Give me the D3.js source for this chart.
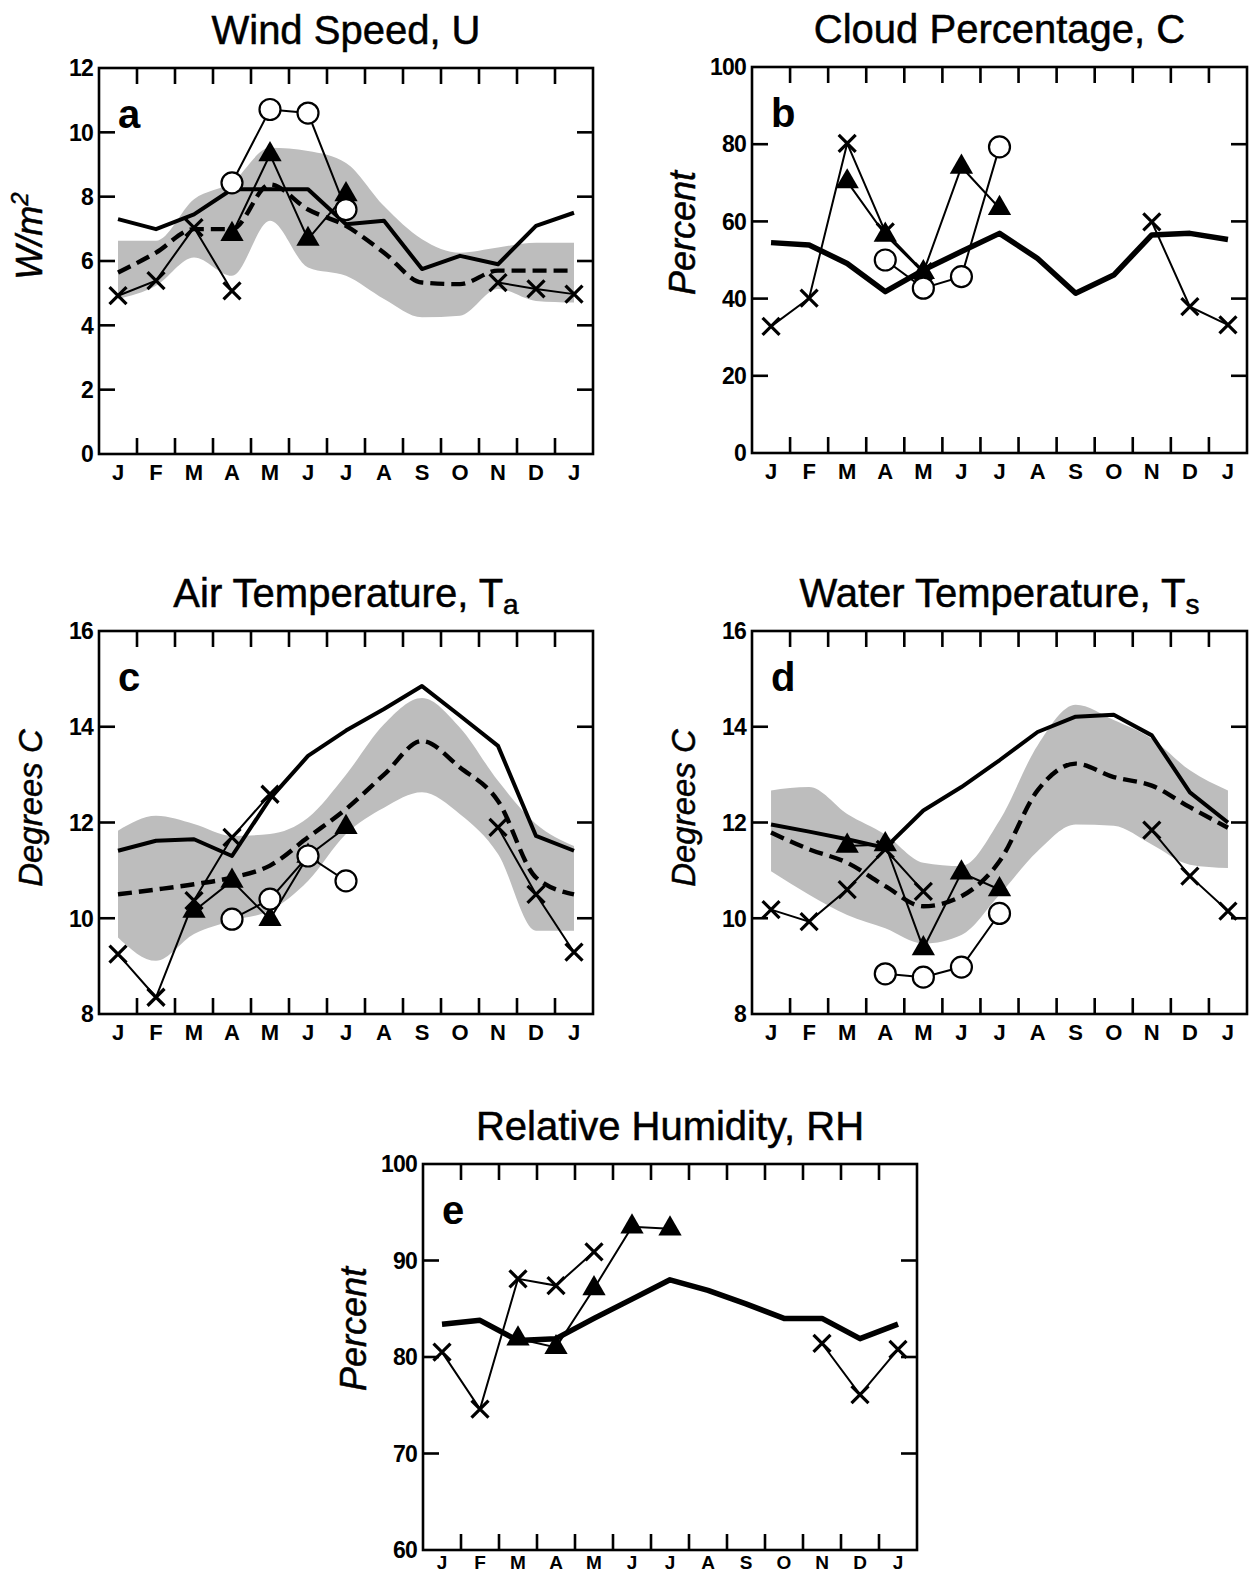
<!DOCTYPE html>
<html>
<head>
<meta charset="utf-8">
<script src="https://cdn.jsdelivr.net/npm/d3@7"></script>
<style>
  html, body { margin: 0; padding: 0; background: #fff; }
  svg { display: block; }
  text { font-family: "Liberation Sans", Arial, Helvetica, sans-serif; fill: #000; }
</style>
</head>
<body>
<svg id="fig" width="1249" height="1574"></svg>
<script>
// Month labels, January through the following January
const months = ["J","F","M","A","M","J","J","A","S","O","N","D","J"];

// ---- (a) Wind speed ----
const windMean   = [7.3, 6.99, 7.45, 8.23, 8.23, 8.23, 7.14, 7.25, 5.75, 6.16, 5.9, 7.09, 7.5];
const windModel  = [5.64, 6.26, 6.99, 6.99, 8.38, 7.6, 7.09, 6.26, 5.33, 5.28, 5.7, 5.7, 5.7];
const windHi     = [6.63, 6.63, 7.92, 8.45, 9.52, 9.42, 9.05, 7.71, 6.68, 6.26, 6.42, 6.57, 6.57];
const windLo     = [4.82, 5.23, 6.11, 5.54, 7.25, 5.8, 5.54, 4.82, 4.25, 4.3, 5.13, 4.76, 4.71];
const windCross  = [4.92, 5.39, 7.04, 5.07, null, null, null, null, null, null, 5.33, 5.13, 4.97];
const windTri    = [null, null, null, 6.83, 9.31, 6.68, 8.07, null, null, null, null, null, null];
const windCircle = [null, null, null, 8.43, 10.71, 10.6, 7.6, null, null, null, null, null, null];
const windTicks  = [0, 2, 4, 6, 8, 10, 12];

// ---- (b) Cloud percentage ----
const cloudMean   = [54.5, 53.9, 49.1, 41.8, 47.4, 52.2, 56.9, 50.4, 41.4, 46.1, 56.5, 56.9, 55.3];
const cloudCross  = [32.8, 40.1, 80.2, 57.3, 47.0, null, null, null, null, null, 59.9, 37.9, 33.2];
const cloudTri    = [null, null, 70.3, 56.5, 46.8, 74.1, 63.4, null, null, null, null, null, null];
const cloudCircle = [null, null, null, 50.0, 42.7, 45.7, 79.3, null, null, null, null, null, null];
const cloudTicks  = [0, 20, 40, 60, 80, 100];

// ---- (c) Air temperature ----
const airMean   = [11.41, 11.62, 11.65, 11.3, 12.5, 13.39, 13.92, 14.37, 14.85, 14.23, 13.6, 11.72, 11.41];
const airModel  = [10.5, 10.6, 10.71, 10.85, 11.1, 11.69, 12.28, 13.0, 13.7, 13.15, 12.45, 10.85, 10.5];
const airHi     = [11.83, 12.14, 11.97, 11.72, 11.76, 12.1, 13.0, 14.05, 14.6, 13.98, 12.87, 11.97, 11.51];
const airLo     = [9.6, 9.11, 9.67, 9.95, 10.16, 10.78, 11.76, 12.31, 12.63, 12.17, 11.34, 9.74, 9.74];
const airCross  = [9.25, 8.35, 10.37, 11.69, 12.59, null, null, null, null, null, 11.9, 10.5, 9.29];
const airTri    = [null, null, 10.15, 10.78, 9.98, 11.3, 11.9, null, null, null, null, null, null];
const airCircle = [null, null, null, 9.98, 10.4, 11.3, 10.78, null, null, null, null, null, null];
const tempTicks = [8, 10, 12, 14, 16];

// ---- (d) Water temperature ----
const waterMean   = [11.96, 11.81, 11.65, 11.47, 12.25, 12.74, 13.3, 13.89, 14.21, 14.25, 13.82, 12.63, 12.0];
const waterModel  = [11.79, 11.44, 11.16, 10.67, 10.25, 10.46, 11.19, 12.67, 13.23, 12.95, 12.77, 12.32, 11.89];
const waterHi     = [12.67, 12.74, 12.18, 11.75, 11.16, 11.09, 12.04, 13.61, 14.46, 14.14, 13.75, 13.09, 12.67];
const waterLo     = [10.98, 10.49, 10.07, 9.79, 9.47, 9.65, 10.49, 11.4, 11.96, 11.93, 11.54, 11.12, 11.05];
const waterCross  = [10.18, 9.93, 10.6, 11.44, 10.56, null, null, null, null, null, 11.84, 10.88, 10.15];
const waterTri    = [null, null, 11.51, 11.54, 9.37, 10.95, 10.6, null, null, null, null, null, null];
const waterCircle = [null, null, null, 8.84, 8.77, 8.98, 10.1, null, null, null, null, null, null];

// ---- (e) Relative humidity ----
const rhMean  = [83.4, 83.8, 81.7, 81.9, 84.0, 86.0, 88.0, 86.9, 85.5, 84.0, 84.0, 81.9, 83.4];
const rhCross = [80.5, 74.6, 88.1, 87.4, 90.9, null, null, null, null, null, 81.4, 76.1, 80.8];
const rhTri   = [null, null, 81.9, 81.0, 87.1, 93.5, 93.3, null, null, null, null, null, null];
const rhTicks = [60, 70, 80, 90, 100];

// Panel placement and series wiring
const panels = [
  { letter: "a", title: [["Wind Speed, U"]], yTitle: "W/m", ySup: "2", yTitleSize: 36,
    box: { left: 99, top: 68, width: 494, height: 386 }, yTitleDy: 168, meanWidth: 4,
    domain: [0, 12], ticks: windTicks, monthSize: 22, monthGap: 26,
    hi: windHi, lo: windLo, model: windModel, mean: windMean,
    cross: windCross, tri: windTri, circle: windCircle },
  { letter: "b", title: [["Cloud Percentage, C"]], yTitle: "Percent", yTitleSize: 36,
    box: { left: 752, top: 67, width: 495, height: 386 }, yTitleDy: 166, meanWidth: 5.5,
    domain: [0, 100], ticks: cloudTicks, monthSize: 22, monthGap: 26,
    mean: cloudMean, cross: cloudCross, tri: cloudTri, circle: cloudCircle },
  { letter: "c", title: [["Air Temperature, T"], ["a", "sub"]], yTitle: "Degrees C", yTitleSize: 33,
    box: { left: 99, top: 631, width: 494, height: 383 }, yTitleDy: 177, meanWidth: 4,
    domain: [8, 16], ticks: tempTicks, monthSize: 22, monthGap: 26,
    hi: airHi, lo: airLo, model: airModel, mean: airMean,
    cross: airCross, tri: airTri, circle: airCircle },
  { letter: "d", title: [["Water Temperature, T"], ["s", "sub"]], yTitle: "Degrees C", yTitleSize: 33,
    box: { left: 752, top: 631, width: 495, height: 383 }, yTitleDy: 177, meanWidth: 4,
    domain: [8, 16], ticks: tempTicks, monthSize: 22, monthGap: 26,
    hi: waterHi, lo: waterLo, model: waterModel, mean: waterMean,
    cross: waterCross, tri: waterTri, circle: waterCircle },
  { letter: "e", title: [["Relative Humidity, RH"]], yTitle: "Percent", yTitleSize: 36,
    box: { left: 423, top: 1164, width: 494, height: 386 }, yTitleDy: 165, meanWidth: 5.5,
    domain: [60, 100], ticks: rhTicks, monthSize: 19, monthGap: 19,
    mean: rhMean, cross: rhCross, tri: rhTri }
];

const svg = d3.select("#fig");
const idx = d3.range(months.length);

panels.forEach(p => {
  const { left, top, width, height } = p.box;
  const x = d3.scaleLinear().domain([-0.5, 12.5]).range([left, left + width]);
  const y = d3.scaleLinear().domain(p.domain).range([top + height, top]);
  const g = svg.append("g");

  // shaded envelope
  if (p.hi) {
    const area = d3.area()
      .x(i => x(i)).y0(i => y(p.lo[i])).y1(i => y(p.hi[i]))
      .curve(d3.curveMonotoneX);
    g.append("path").attr("d", area(idx)).attr("fill", "#bdbdbd");
  }

  // dashed curve
  if (p.model) {
    const ln = d3.line().x(i => x(i)).y(i => y(p.model[i])).curve(d3.curveMonotoneX);
    g.append("path").attr("d", ln(idx)).attr("fill", "none")
      .attr("stroke", "#000").attr("stroke-width", 4.4)
      .attr("stroke-dasharray", "14,7");
  }

  // heavy solid curve
  {
    const ln = d3.line().x(i => x(i)).y(i => y(p.mean[i]));
    g.append("path").attr("d", ln(idx)).attr("fill", "none")
      .attr("stroke", "#000").attr("stroke-width", p.meanWidth)
      .attr("stroke-linejoin", "round");
  }

  // thin connecting lines for the marker series
  const thin = arr => {
    const ln = d3.line().defined(i => arr[i] != null).x(i => x(i)).y(i => y(arr[i]));
    g.append("path").attr("d", ln(idx)).attr("fill", "none")
      .attr("stroke", "#000").attr("stroke-width", 2);
  };
  const pts = arr => idx.filter(i => arr[i] != null);

  if (p.cross) {
    thin(p.cross);
    const s = 8.5;
    pts(p.cross).forEach(i => {
      const cx = x(i), cy = y(p.cross[i]);
      g.append("path")
        .attr("d", `M${cx - s},${cy - s}L${cx + s},${cy + s}M${cx - s},${cy + s}L${cx + s},${cy - s}`)
        .attr("stroke", "#000").attr("stroke-width", 3.2).attr("fill", "none");
    });
  }
  if (p.tri) {
    thin(p.tri);
    const tri = d3.symbol().type(d3.symbolTriangle).size(235);
    pts(p.tri).forEach(i => {
      g.append("path").attr("d", tri())
        .attr("transform", `translate(${x(i)},${y(p.tri[i])})`)
        .attr("fill", "#000");
    });
  }
  if (p.circle) {
    thin(p.circle);
    pts(p.circle).forEach(i => {
      g.append("circle").attr("cx", x(i)).attr("cy", y(p.circle[i])).attr("r", 10.5)
        .attr("fill", "#fff").attr("stroke", "#000").attr("stroke-width", 2.2);
    });
  }

  // frame
  g.append("rect").attr("x", left).attr("y", top).attr("width", width).attr("height", height)
    .attr("fill", "none").attr("stroke", "#000").attr("stroke-width", 2.6);

  // month boundary ticks, top and bottom
  const tl = 16;
  d3.range(12).forEach(k => {
    const xx = x(k + 0.5);
    g.append("line").attr("x1", xx).attr("x2", xx).attr("y1", top + height).attr("y2", top + height - tl)
      .attr("stroke", "#000").attr("stroke-width", 2.6);
    g.append("line").attr("x1", xx).attr("x2", xx).attr("y1", top).attr("y2", top + tl)
      .attr("stroke", "#000").attr("stroke-width", 2.6);
  });

  // value ticks, left and right
  p.ticks.slice(1, -1).forEach(v => {
    g.append("line").attr("x1", left).attr("x2", left + tl).attr("y1", y(v)).attr("y2", y(v))
      .attr("stroke", "#000").attr("stroke-width", 2.6);
    g.append("line").attr("x1", left + width).attr("x2", left + width - tl).attr("y1", y(v)).attr("y2", y(v))
      .attr("stroke", "#000").attr("stroke-width", 2.6);
  });

  // value labels
  p.ticks.forEach(v => {
    g.append("text").attr("x", left - 6).attr("y", y(v)).attr("dy", "0.36em")
      .attr("text-anchor", "end").attr("font-size", 23).attr("font-weight", "bold")
      .attr("letter-spacing", -0.8).text(v);
  });

  // month labels
  months.forEach((m, i) => {
    g.append("text").attr("x", x(i)).attr("y", top + height + p.monthGap)
      .attr("text-anchor", "middle").attr("font-size", p.monthSize).attr("font-weight", "bold").text(m);
  });

  // panel letter
  g.append("text").attr("x", left + 19).attr("y", top + 60)
    .attr("font-size", 40).attr("font-weight", "bold").text(p.letter);

  // title
  const t = g.append("text").attr("x", left + width / 2).attr("y", top - 24)
    .attr("text-anchor", "middle").attr("font-size", 40)
    .attr("stroke", "#000").attr("stroke-width", 0.5);
  p.title.forEach(([s, kind]) => {
    if (kind === "sub") t.append("tspan").attr("font-size", 28).attr("dy", 7).text(s);
    else t.append("tspan").text(s);
  });

  // y-axis title
  const yt = g.append("text")
    .attr("transform", `translate(${left - 57},${top + p.yTitleDy}) rotate(-90)`)
    .attr("text-anchor", "middle").attr("font-size", p.yTitleSize).attr("font-style", "italic")
    .attr("stroke", "#000").attr("stroke-width", 0.5);
  yt.append("tspan").text(p.yTitle);
  if (p.ySup) yt.append("tspan").attr("font-size", 24).attr("dy", -14).text(p.ySup);
});
</script>
</body>
</html>
